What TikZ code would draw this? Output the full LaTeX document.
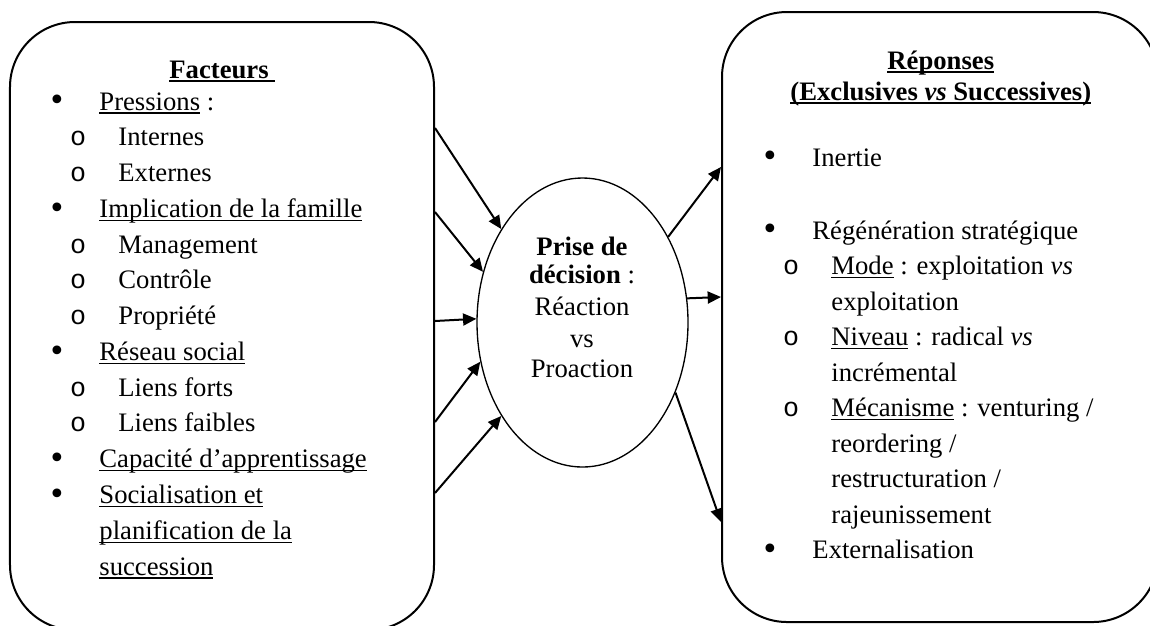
\documentclass[tikz,border=0pt]{standalone}
\usepackage{fontspec}
\setmainfont{Liberation Serif}
\newfontfamily\monofont{Liberation Mono}
\newfontfamily\bulfont{DejaVu Sans}
\usetikzlibrary{arrows.meta,shapes.geometric}
\newcommand\myul[1]{\setbox0=\hbox{#1}\rlap{\rule[-1.7pt]{\wd0}{0.65pt}}\box0\relax}
\begin{document}
\begin{tikzpicture}[x=0.45pt,y=-0.45pt,
  box/.style={draw, line width=0.9pt, rounded corners=29.25pt, inner sep=0pt},
  txt/.style={anchor=base west, inner sep=0pt, font=\fontsize{12}{14}\selectfont},
  bul/.style={anchor=center, inner sep=0pt, font=\fontsize{13.5}{14}\bulfont},
  subb/.style={anchor=base, inner sep=0pt, font=\fontsize{12}{14}\monofont},
  ctr/.style={anchor=base, inner sep=0pt, font=\fontsize{12}{14}\selectfont},
  arr/.style={-{Triangle[length=6pt,width=5.4pt]}, line width=0.9pt}]
\useasboundingbox (0,0) rectangle (1150,625);
\clip (0,0) rectangle (1150,625);

% boxes
\node[box, minimum width=190.8pt, minimum height=273.6pt] (L) at (222,326) {};
\node[box, minimum width=196.2pt, minimum height=274.5pt] (R) at (940,317) {};
\node[draw, ellipse, line width=0.6pt, minimum width=94.95pt, minimum height=130.05pt, inner sep=0pt] (E) at (582.5,322.5) {};

% left text
\node[txt] (lh) at (169,78) {\myul{\textbf{Facteurs}\ }};
\node[bul] (lb1) at (57,103) {•};
\node[txt] (l1) at (99,110) {\myul{Pressions} :};
\node[subb] (ls1) at (78,145.8) {o};
\node[txt] (l2) at (118,145.8) {Internes};
\node[subb] (ls2) at (78,181.5) {o};
\node[txt] (l3) at (118,181.5) {Externes};
\node[bul] (lb2) at (57,210.3) {•};
\node[txt] (l4) at (99,217.3) {\myul{Implication de la famille}};
\node[subb] (ls3) at (78,253.1) {o};
\node[txt] (l5) at (118,253.1) {Management};
\node[subb] (ls4) at (78,288.9) {o};
\node[txt] (l6) at (118,288.9) {Contrôle};
\node[subb] (ls5) at (78,324.6) {o};
\node[txt] (l7) at (118,324.6) {Propriété};
\node[bul] (lb3) at (57,353.4) {•};
\node[txt] (l8) at (99,360.4) {\myul{Réseau social}};
\node[subb] (ls6) at (78,396.2) {o};
\node[txt] (l9) at (118,396.2) {Liens forts};
\node[subb] (ls7) at (78,431.9) {o};
\node[txt] (l10) at (118,431.9) {Liens faibles};
\node[bul] (lb4) at (57,460.7) {•};
\node[txt] (l11) at (99,467.7) {\myul{Capacité d’apprentissage}};
\node[bul] (lb5) at (57,496.5) {•};
\node[txt] (l12) at (99,503.5) {\myul{Socialisation et}};
\node[txt] (l13) at (99,539.2) {\myul{planification de la}};
\node[txt] (l14) at (99,575) {\myul{succession}};

% ellipse text
\node[ctr] (e1) at (582,255) {\textbf{Prise de}};
\node[ctr] (e2) at (582,283) {\textbf{décision} :};
\node[ctr] (e3) at (582,315) {Réaction};
\node[ctr] (e4) at (582,347) {vs};
\node[ctr] (e5) at (582,377) {Proaction};

% right text
\node[txt] (rh1) at (887,69) {\myul{\textbf{Réponses}}};
\node[txt] (rh2) at (790,100) {\myul{\textbf{(Exclusives \textit{vs} Successives)}}};
\node[bul] (rb1) at (770,159) {•};
\node[txt] (r1) at (812,166) {Inertie};
\node[bul] (rb2) at (770,232) {•};
\node[txt] (r2) at (812,239) {Régénération stratégique};
\node[subb] (rs1) at (791,274.5) {o};
\node[txt] (r3) at (831,274.5) {\myul{Mode} : exploitation \textit{vs}};
\node[txt] (r4) at (831,310) {exploitation};
\node[subb] (rs2) at (791,345.5) {o};
\node[txt] (r5) at (831,345.5) {\myul{Niveau} : radical \textit{vs}};
\node[txt] (r6) at (831,381) {incrémental};
\node[subb] (rs3) at (791,416.5) {o};
\node[txt] (r7) at (831,416.5) {\myul{Mécanisme} : venturing /};
\node[txt] (r8) at (831,452) {reordering /};
\node[txt] (r9) at (831,487.5) {restructuration /};
\node[txt] (r10) at (831,523) {rajeunissement};
\node[bul] (rb3) at (770,551.5) {•};
\node[txt] (r11) at (812,558.5) {Externalisation};

% arrow anchors
\coordinate (a1) at (L.east |- 0,128);
\coordinate (a2) at (L.east |- 0,212);
\coordinate (a3) at (L.east |- 0,321);
\coordinate (a4) at (L.east |- 0,422);
\coordinate (a5) at (L.east |- 0,493);
\coordinate (b1) at (R.west |- 0,167);
\coordinate (b2) at (R.west |- 0,297);
\coordinate (b3) at (R.west |- 0,522);

\draw[arr] (a1) -- (E.131.5);
\draw[arr] (a2) -- (E.153.3);
\draw[arr] (a3) -- (E.178);
\draw[arr] (a4) -- (E.201.7);
\draw[arr] (a5) -- (E.229.5);
\draw[arr] (E.45) -- (b1);
\draw[arr] (E.13.7) -- (b2);
\draw[arr] (E.-37.9) -- (b3);
\end{tikzpicture}
\end{document}
